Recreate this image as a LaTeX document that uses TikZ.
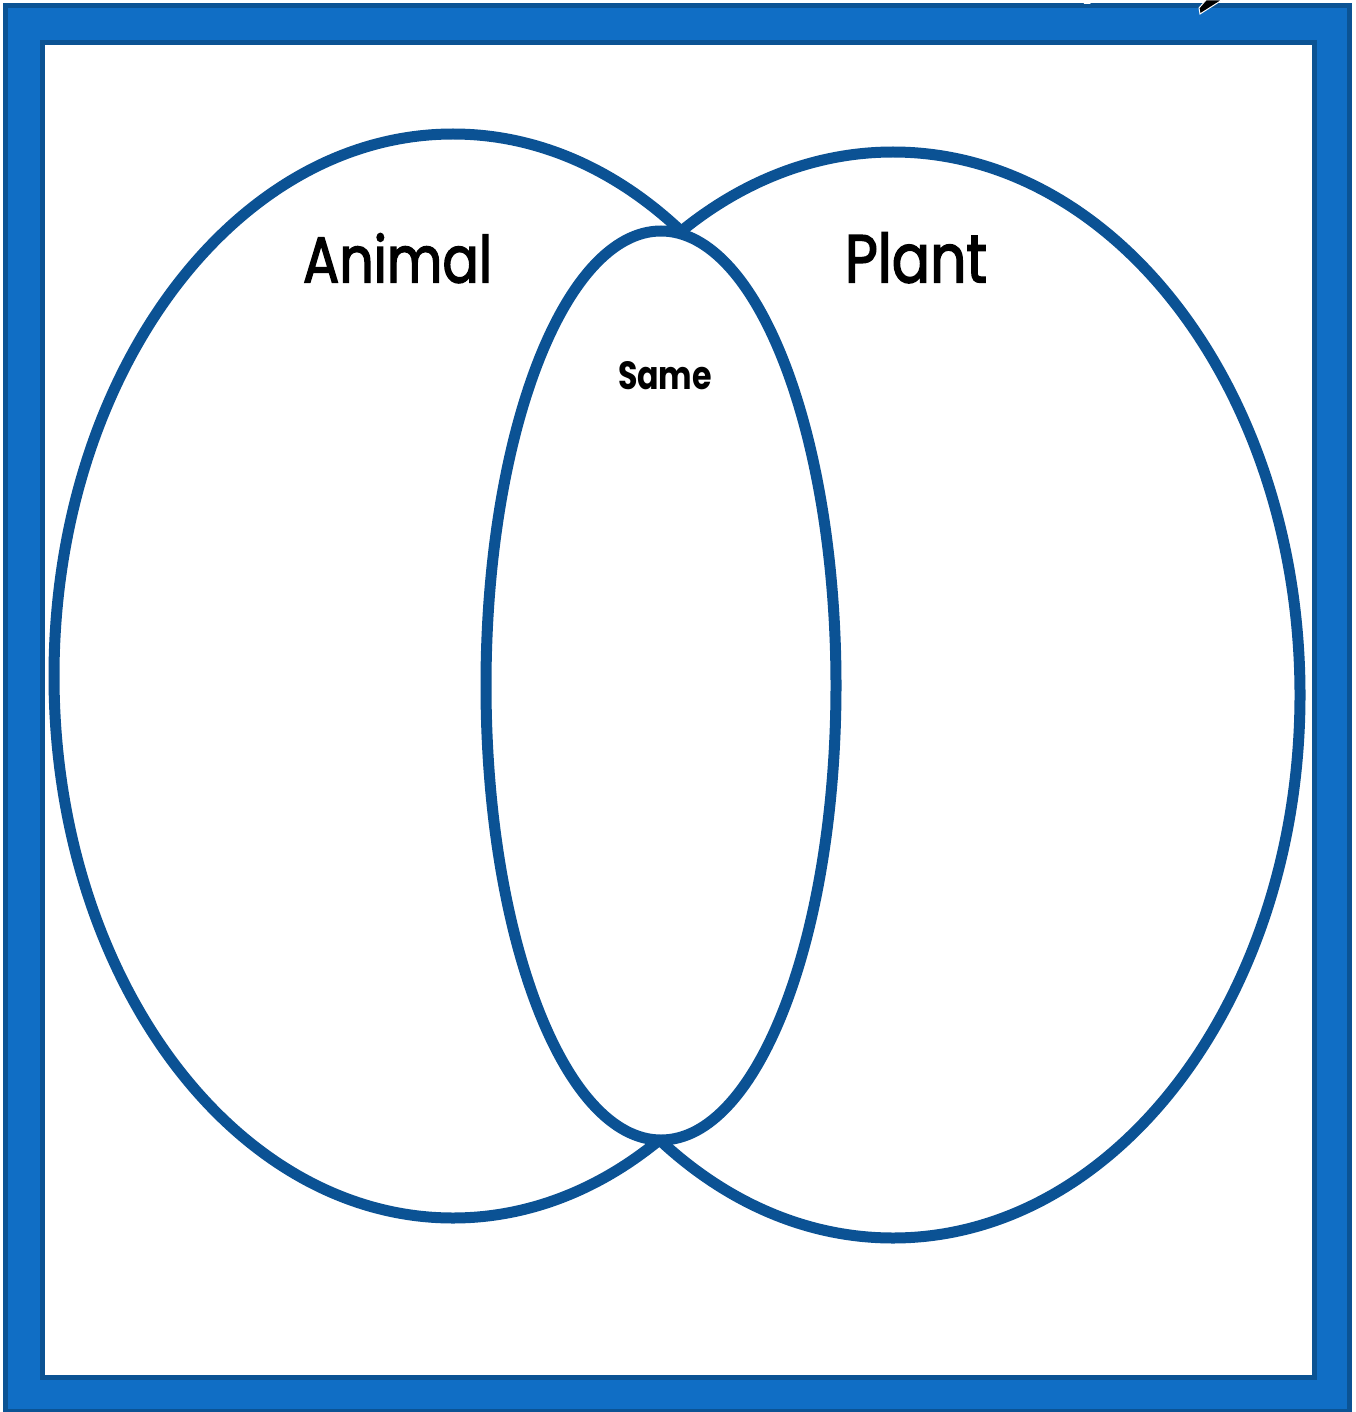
\documentclass[tikz,border=0pt]{standalone}
\usepackage{graphicx}
\usepackage{fontspec}
\setmainfont{Poppins}
\newfontfamily\labelfont[FakeBold=2.5]{Poppins}
\definecolor{framelight}{RGB}{16,110,197}
\definecolor{framedark}{RGB}{11,83,148}
\definecolor{venn}{RGB}{11,82,148}
\tikzset{
  vennline/.style={draw=venn, line width=11pt},
  lbl/.style={inner sep=0pt, outer sep=0pt, anchor=south west, text=black}
}
\begin{document}
\begin{tikzpicture}[x=1pt,y=-1pt]
\useasboundingbox (0,0) rectangle (1355,1412);
\fill[white] (0,0) rectangle (1355,1412);
% frame
\fill[framedark] (3,3) rectangle (1352,1412);
\fill[framelight] (8,8) rectangle (1347,1409);
\fill[framedark] (40,40) rectangle (1317,1380);
\fill[white] (45,45) rectangle (1312,1375);
% cursor artifacts at top edge
\fill[white] (1083,0) -- (1093,0) -- (1090,4) -- (1084,4) -- cycle;
\filldraw[fill=black, draw=white, line width=1pt] (1206,0) -- (1222,0) -- (1200,14) -- (1199,8) -- cycle;
% outer circles
\begin{scope}
  \clip (0,0) rectangle (700,1412);
  \draw[vennline] (453,676) ellipse [x radius=399, y radius=542];
\end{scope}
\begin{scope}
  \clip (625,0) rectangle (1355,1412);
  \draw[vennline] (893,695) ellipse [x radius=407, y radius=543];
\end{scope}
% middle
\draw[vennline, fill=white] (661,685.5) ellipse [x radius=175, y radius=454.5];
% labels
\node[lbl] (animal) at (303,283) {\resizebox{189pt}{49pt}{\labelfont Animal}};
\node[lbl] (plant) at (845,283) {\resizebox{142pt}{50pt}{\labelfont Plant}};
\node[lbl] (same) at (618,390) {\resizebox{94pt}{28pt}{\bfseries Same}};
\end{tikzpicture}
\end{document}
